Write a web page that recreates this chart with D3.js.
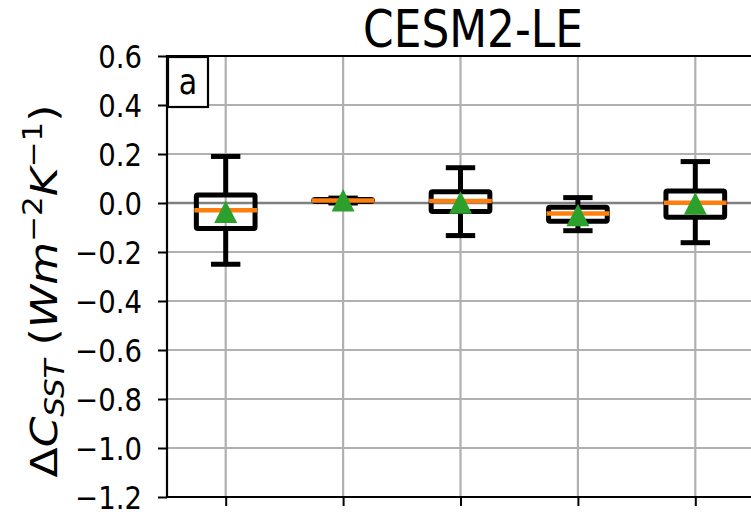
<!DOCTYPE html>
<html>
<head>
<meta charset="utf-8">
<script src="https://cdn.jsdelivr.net/npm/d3@7"></script>
<style>
  html, body { margin: 0; padding: 0; background: #fff; overflow: hidden; }
  svg { display: block; font-family: "DejaVu Sans", sans-serif; }
</style>
</head>
<body>
<svg id="chart" width="751" height="515"></svg>
<script>
// ---- data ----
const positions = [1, 2, 3, 4, 5];
const whiskerLow = [-0.25, 0.0, -0.133, -0.113, -0.162];
const q1 = [-0.104, 0.006, -0.035, -0.074, -0.058];
const medians = [-0.03, 0.01, 0.008, -0.043, 0.001];
const q3 = [0.033, 0.014, 0.046, -0.017, 0.049];
const whiskerHigh = [0.19, 0.02, 0.144, 0.022, 0.169];
const means = [-0.037, 0.01, 0.001, -0.05, -0.003];
const yTicks = [0.6, 0.4, 0.2, 0.0, -0.2, -0.4, -0.6, -0.8, -1.0, -1.2];
const titleText = "CESM2-LE";
const panelLabel = "a";

// ---- layout ----
const SX = 0.86; // horizontal squeeze of the reference text
const pL = 167, pR = 754, pT = 56, pB = 497;
const LW = 5;
const svg = d3.select("#chart");

const x = d3.scaleLinear().domain([0.5, 5.5]).range([pL, pR]);
const y = d3.scaleLinear().domain([-1.2, 0.6]).range([pB, pT]);

// grid
const grid = svg.append("g");
grid.selectAll("line.gy").data(yTicks).join("line")
  .attr("x1", pL).attr("x2", pR)
  .attr("y1", d => y(d)).attr("y2", d => y(d))
  .attr("stroke", "#b0b0b0").attr("stroke-width", 2.2);
grid.selectAll("line.gx").data(positions).join("line")
  .attr("x1", d => x(d)).attr("x2", d => x(d))
  .attr("y1", pT).attr("y2", pB)
  .attr("stroke", "#b0b0b0").attr("stroke-width", 2.2);

// zero line
svg.append("line")
  .attr("x1", pL).attr("x2", pR)
  .attr("y1", y(0)).attr("y2", y(0))
  .attr("stroke", "#808080").attr("stroke-width", 2.5);

// boxes
const boxW = 0.5, capW = 0.25;
const boxes = svg.append("g");
positions.forEach((p, i) => {
  const g = boxes.append("g");
  g.append("line").attr("x1", x(p)).attr("x2", x(p))
    .attr("y1", y(q1[i])).attr("y2", y(whiskerLow[i]))
    .attr("stroke", "#000").attr("stroke-width", LW);
  g.append("line").attr("x1", x(p)).attr("x2", x(p))
    .attr("y1", y(q3[i])).attr("y2", y(whiskerHigh[i]))
    .attr("stroke", "#000").attr("stroke-width", LW);
  [whiskerLow[i], whiskerHigh[i]].forEach(v => {
    g.append("line").attr("x1", x(p - capW / 2)).attr("x2", x(p + capW / 2))
      .attr("y1", y(v)).attr("y2", y(v))
      .attr("stroke", "#000").attr("stroke-width", LW);
  });
  g.append("rect")
    .attr("x", x(p - boxW / 2)).attr("width", x(p + boxW / 2) - x(p - boxW / 2))
    .attr("y", y(q3[i])).attr("height", Math.max(0.5, y(q1[i]) - y(q3[i])))
    .attr("rx", 1.5)
    .attr("fill", "none").attr("stroke", "#000").attr("stroke-width", LW)
    .attr("stroke-linejoin", "round");
  g.append("line").attr("x1", x(p - boxW / 2) - 2).attr("x2", x(p + boxW / 2) + 2)
    .attr("y1", y(medians[i])).attr("y2", y(medians[i]))
    .attr("stroke", "#ff7f0e").attr("stroke-width", 4.5);
  const cx = x(p), cy = y(means[i]);
  g.append("path")
    .attr("d", d3.line()([[cx, cy - 11.5], [cx - 11.5, cy + 11], [cx + 11.5, cy + 11]]) + "Z")
    .attr("fill", "#2ca02c");
});

// spines
svg.append("line").attr("x1", pL).attr("x2", pL).attr("y1", pT - 1).attr("y2", pB + 1)
  .attr("stroke", "#000").attr("stroke-width", 2.2);
svg.append("line").attr("x1", pL - 1).attr("x2", pR).attr("y1", pT).attr("y2", pT)
  .attr("stroke", "#000").attr("stroke-width", 2.2);
svg.append("line").attr("x1", pL - 1).attr("x2", pR).attr("y1", pB).attr("y2", pB)
  .attr("stroke", "#000").attr("stroke-width", 2.2);

// y axis
const yAxis = d3.axisLeft(y).tickValues(yTicks).tickSize(9).tickPadding(0)
  .tickFormat(d => d3.format(".1f")(d).replace("-", "\u2212"));
const ya = svg.append("g").attr("transform", `translate(${pL},0)`).call(yAxis);
ya.select(".domain").remove();
ya.selectAll(".tick line").attr("stroke", "#000").attr("stroke-width", 2);
ya.selectAll(".tick text").each(function () {
  const t = d3.select(this);
  t.attr("x", null).attr("dy", null)
    .attr("transform", `translate(-25,11) scale(${SX},1)`)
    .attr("font-size", 32).attr("fill", "#000")
    .attr("font-family", "DejaVu Sans").attr("text-anchor", "end");
});

// x axis ticks (no labels)
const xAxis = d3.axisBottom(x).tickValues(positions).tickSize(9).tickFormat("");
const xa = svg.append("g").attr("transform", `translate(0,${pB})`).call(xAxis);
xa.select(".domain").remove();
xa.selectAll(".tick line").attr("stroke", "#000").attr("stroke-width", 2);

// title
svg.append("text")
  .attr("transform", `translate(473,47) scale(${SX},1)`)
  .attr("text-anchor", "middle").attr("font-size", 51).attr("fill", "#000")
  .text(titleText);

// panel label
svg.append("rect").attr("x", 168).attr("y", 57).attr("width", 40).attr("height", 50)
  .attr("fill", "#fff").attr("stroke", "#000").attr("stroke-width", 2.2);
svg.append("text")
  .attr("transform", `translate(188,94) scale(${SX},1)`)
  .attr("text-anchor", "middle").attr("font-size", 35).attr("fill", "#000")
  .text(panelLabel);

// y label (mathtext-like)
const yl = svg.append("text")
  .attr("transform", `translate(57,291) rotate(-90) scale(1,${SX})`)
  .attr("text-anchor", "middle").attr("font-size", 44).attr("fill", "#000");
yl.append("tspan").text("\u0394");
yl.append("tspan").attr("font-style", "italic").text("C");
yl.append("tspan").attr("font-style", "italic").attr("font-size", 31).attr("dy", 8).text("SST");
yl.append("tspan").attr("dy", -8).text(" (");
yl.append("tspan").attr("font-style", "italic").text("Wm");
yl.append("tspan").attr("font-size", 31).attr("dy", -18).text("\u22122");
yl.append("tspan").attr("font-style", "italic").attr("dy", 18).text("K");
yl.append("tspan").attr("font-size", 31).attr("dy", -18).text("\u22121");
yl.append("tspan").attr("dy", 18).text(")");
</script>
</body>
</html>
